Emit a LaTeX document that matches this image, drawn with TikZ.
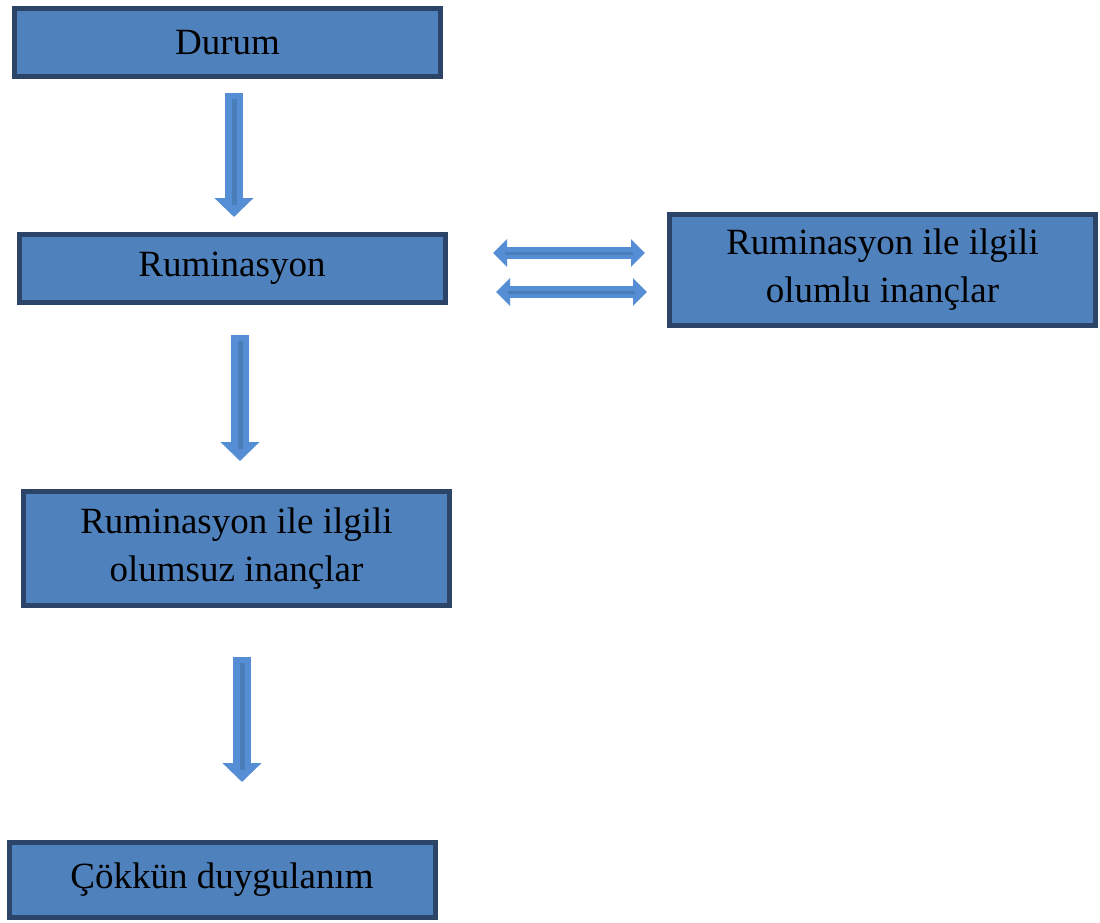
\documentclass[tikz,border=0pt]{standalone}
\usepackage{fontspec}
\setmainfont{Liberation Serif}
\usetikzlibrary{arrows.meta}
\definecolor{boxfill}{HTML}{4F81BD}
\definecolor{boxline}{HTML}{2B4468}
\definecolor{arrfill}{HTML}{558ED5}
\definecolor{arrmid}{HTML}{4A7EBB}
\tikzset{
  box/.style={draw=boxline,fill=boxfill,line width=5pt,minimum width=426pt,
    align=center,inner sep=0pt,font=\fontsize{37}{48}\selectfont},
  downarr/.style={arrfill,line width=18pt,-{Triangle[width=38pt,length=19pt]}},
  bothar/.style={arrfill,line width=12pt,{Triangle[width=27pt,length=14pt]}-{Triangle[width=27pt,length=14pt]}},
  midline/.style={arrmid,line width=5pt}
}
\begin{document}
\begin{tikzpicture}[x=1pt,y=-1pt]
  \useasboundingbox (0,0) rectangle (1100,922);
  \node[box,minimum height=68pt] (durum) at (227.5,42.5) {Durum};
  \node[box,minimum height=68pt] (rum) at (232,268.5) {Ruminasyon};
  \node[box,minimum height=111pt] (olumlu) at (882.5,270) {Ruminasyon ile ilgili\\olumlu inançlar};
  \node[box,minimum height=114pt] (olumsuz) at (236.5,548.5) {Ruminasyon ile ilgili\\olumsuz inançlar};
  \node[box,minimum height=75pt] (cokkun) at (222,880) {Çökkün duygulanım};
  % arrow ends
  \coordinate (a1s) at (234,93);   \coordinate (a1e) at (234,217);
  \coordinate (a2s) at (240,335);  \coordinate (a2e) at (240,461);
  \coordinate (a3s) at (242,657);  \coordinate (a3e) at (242,782);
  \coordinate (b1s) at (493,253);  \coordinate (b1e) at (645,253);
  \coordinate (b2s) at (496,292);  \coordinate (b2e) at (647,292);
  \foreach \s/\e in {a1s/a1e,a2s/a2e,a3s/a3e}{
    \draw[downarr] (\s) -- (\e);
    \draw[midline] ([yshift=-6pt]\s) -- ([yshift=12pt]\e);
  }
  \foreach \s/\e in {b1s/b1e,b2s/b2e}{
    \draw[bothar] (\s) -- (\e);
    \draw[midline,line width=3pt] ([xshift=12pt]\s) -- ([xshift=-12pt]\e);
  }
\end{tikzpicture}
\end{document}
